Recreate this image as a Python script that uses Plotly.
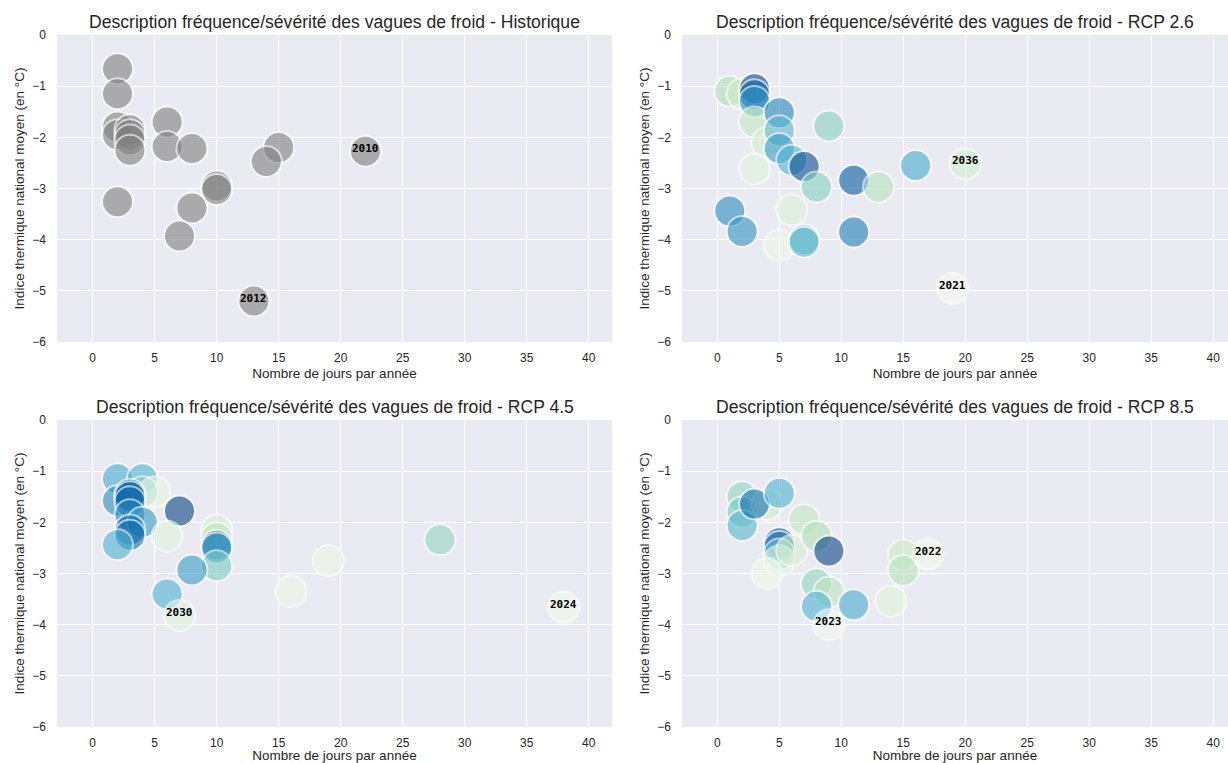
import plotly.graph_objects as go

# --- data (jours / indice thermique / année) ---
hist_days = [2, 2, 2, 2, 3, 3, 3, 3, 6, 6, 8, 15, 14, 22, 10, 10, 2, 8, 7, 13]
hist_index = [-0.66, -1.15, -1.80, -1.95, -1.85, -1.95, -2.05, -2.25, -1.70, -2.18,
              -2.22, -2.20, -2.47, -2.27, -2.95, -3.02, -3.26, -3.38, -3.93, -5.20]
hist_labels = {"2010": (22, -2.27), "2012": (13, -5.20)}

rcp26_days = [1, 2, 3, 3, 3, 3, 4, 5, 5, 5, 6, 7, 3, 9, 8, 11, 13, 16, 20,
              1, 2, 6, 5, 7, 7, 11, 19]
rcp26_index = [-1.10, -1.15, -1.05, -1.17, -1.30, -1.70, -2.10, -1.52, -1.87, -2.22,
               -2.45, -2.57, -2.62, -1.78, -2.97, -2.84, -2.97, -2.55, -2.52,
               -3.44, -3.84, -3.42, -4.11, -4.00, -4.05, -3.85, -4.95]
rcp26_year = [2048, 2040, 2098, 2090, 2078, 2042, 2035, 2082, 2068, 2076,
              2070, 2097, 2030, 2057, 2058, 2093, 2047, 2072, 2036,
              2080, 2078, 2032, 2025, 2063, 2068, 2084, 2021]
rcp26_labels = {"2036": (20, -2.52), "2021": (19, -4.95)}

rcp45_days = [2, 4, 4, 5, 2, 3, 3, 3, 3, 4, 3, 3, 2, 7, 6, 10, 10, 10, 10, 10,
              8, 6, 7, 16, 19, 28, 38]
rcp45_index = [-1.15, -1.15, -1.40, -1.40, -1.58, -1.45, -1.50, -1.60, -1.85, -2.00,
               -2.15, -2.25, -2.44, -1.78, -2.27, -2.15, -2.30, -2.45, -2.50, -2.85,
               -2.93, -3.40, -3.82, -3.35, -2.75, -2.34, -3.66]
rcp45_year = [2072, 2070, 2058, 2028, 2080, 2090, 2095, 2088, 2082, 2077,
              2090, 2088, 2070, 2099, 2030, 2035, 2045, 2085, 2080, 2060,
              2076, 2070, 2030, 2026, 2027, 2055, 2024]
rcp45_labels = {"2030": (7, -3.82), "2024": (38, -3.66)}

rcp85_days = [2, 2, 2, 4, 3, 5, 5, 5, 5, 5, 6, 4, 7, 8, 9, 8, 9, 8, 11, 9,
              14, 15, 15, 17]
rcp85_index = [-1.50, -1.80, -2.06, -1.65, -1.64, -1.43, -2.40, -2.47, -2.62, -2.75,
               -2.55, -3.00, -1.95, -2.27, -2.56, -3.20, -3.36, -3.64, -3.61, -4.00,
               -3.54, -2.64, -2.94, -2.62]
rcp85_year = [2055, 2062, 2068, 2040, 2088, 2070, 2094, 2085, 2065, 2030,
              2035, 2024, 2042, 2048, 2099, 2055, 2045, 2070, 2072, 2023,
              2030, 2040, 2046, 2022]
rcp85_labels = {"2022": (17, -2.62), "2023": (9, -4.00)}

titles = ["Historique", "RCP 2.6", "RCP 4.5", "RCP 8.5"]

BG = "#EAEAF2"
TXT = "#262626"

# pixel layout of the 2x2 grid (1228 x 763)
W, H = 1228, 763
panels = [
    # (x0, x1, y0, y1) in pixels, x range
    (57, 612, 35, 342, [-2.88, 41.88]),
    (682, 1228, 35, 342, [-2.85, 41.2]),
    (57, 612, 420, 727, [-2.88, 41.88]),
    (682, 1228, 420, 727, [-2.85, 41.2]),
]

fig = go.Figure()

series = [
    (hist_days, hist_index, None, hist_labels),
    (rcp26_days, rcp26_index, rcp26_year, rcp26_labels),
    (rcp45_days, rcp45_index, rcp45_year, rcp45_labels),
    (rcp85_days, rcp85_index, rcp85_year, rcp85_labels),
]

annotations = []
for i, ((days, index, years, labels), (px0, px1, py0, py1, xr)) in enumerate(zip(series, panels)):
    n = "" if i == 0 else str(i + 1)
    xa, ya = "x" + n, "y" + n
    if years is None:
        marker = dict(color="grey", size=31, opacity=0.6, line=dict(color="white", width=2))
    else:
        marker = dict(color=years, colorscale="GnBu", cmin=2021, cmax=2100, showscale=False,
                      size=31, opacity=0.6, line=dict(color="white", width=2))
    fig.add_trace(go.Scatter(x=days, y=index, mode="markers", marker=marker,
                             xaxis=xa, yaxis=ya, showlegend=False))

    fig.layout["xaxis" + n] = dict(
        domain=[px0 / W, px1 / W], anchor=ya, range=xr, automargin=False,
        tickvals=[0, 5, 10, 15, 20, 25, 30, 35, 40],
        showgrid=True, gridcolor="white", gridwidth=1.3, zeroline=False,
        showline=False, ticks="", tickfont=dict(size=12, color=TXT), ticklabelstandoff=7,
        title=dict(text="Nombre de jours par année", font=dict(size=13.5, color=TXT), standoff=4),
    )
    fig.layout["yaxis" + n] = dict(
        domain=[1 - py1 / H, 1 - py0 / H], anchor=xa, range=[-6, 0], automargin=False,
        tickvals=[0, -1, -2, -3, -4, -5, -6],
        showgrid=True, gridcolor="white", gridwidth=1.3, zeroline=False,
        showline=False, ticks="", tickfont=dict(size=12, color=TXT), ticklabelstandoff=10,
        title=dict(text="Indice thermique national moyen (en °C)",
                   font=dict(size=13.5, color=TXT), standoff=4),
    )

    annotations.append(dict(
        text="Description fréquence/sévérité des vagues de froid - " + titles[i],
        xref="paper", yref="paper", x=(px0 + px1) / 2 / W, y=1 - (py0 - 1) / H,
        xanchor="center", yanchor="bottom", showarrow=False,
        font=dict(size=17.6, color=TXT, family="Liberation Sans, Arial"),
    ))
    for txt, (lx, ly) in labels.items():
        annotations.append(dict(
            text=txt, x=lx, y=ly, xref=xa, yref=ya, showarrow=False, yshift=3,
            font=dict(family="DejaVu Sans Mono", size=11, color="black", weight="bold"),
        ))

fig.update_layout(
    width=W, height=H,
    margin=dict(l=0, r=0, t=0, b=0, autoexpand=False),
    paper_bgcolor="white",
    plot_bgcolor=BG,
    font=dict(family="Liberation Sans, Arial", color=TXT),
    annotations=annotations,
)

# page body has a default 8px margin; drop it so the figure sits at the window corner
fig.write_html("out.html", config={"displayModeBar": False},
               post_script="document.body.style.margin='0';")
